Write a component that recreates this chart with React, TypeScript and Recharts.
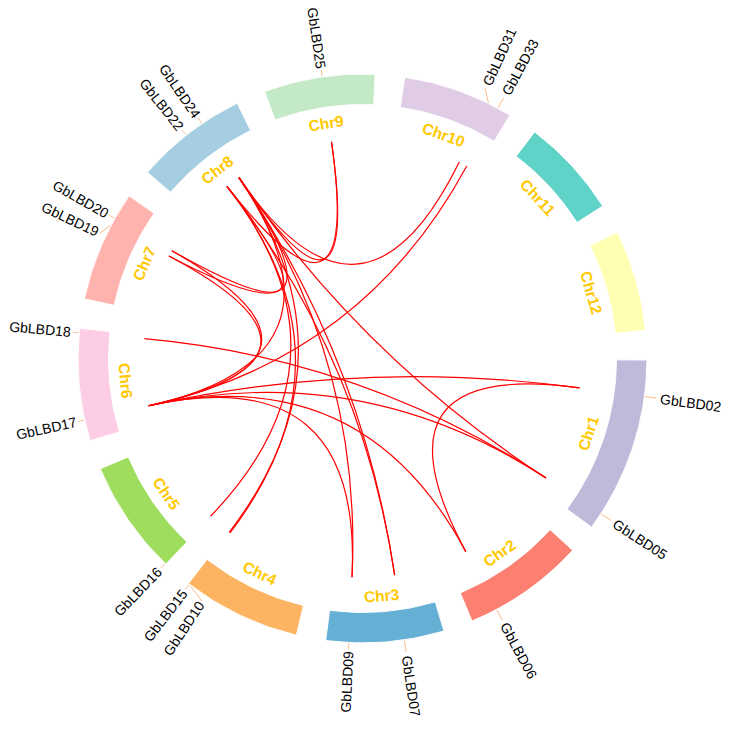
import React from 'react';
import { PieChart, Pie, Cell, Customized } from 'recharts';

// chromosome ring
const chromosomes = ['Chr1', 'Chr2', 'Chr3', 'Chr4', 'Chr5', 'Chr6', 'Chr7', 'Chr8', 'Chr9', 'Chr10', 'Chr11', 'Chr12'];
const chrLengths = [1083, 750, 723, 729, 705, 687, 684, 690, 681, 681, 612, 621]; // Mb
const chrColors = [
  '#BEBADA', '#FB8072', '#66B0D5', '#FDB462', '#9FDD5F', '#FCCDE5',
  '#FFB3AE', '#A6CEE3', '#C4E9C7', '#E0CCE4', '#5FD3C8', '#FFFFB3',
];

// genes placed on the ring
const genes = [
  'GbLBD02', 'GbLBD05', 'GbLBD06', 'GbLBD07', 'GbLBD09', 'GbLBD10', 'GbLBD15', 'GbLBD16', 'GbLBD17',
  'GbLBD18', 'GbLBD19', 'GbLBD20', 'GbLBD22', 'GbLBD24', 'GbLBD25', 'GbLBD31', 'GbLBD33',
];
const geneChr = [
  'Chr1', 'Chr1', 'Chr2', 'Chr3', 'Chr3', 'Chr4', 'Chr4', 'Chr5', 'Chr6',
  'Chr6', 'Chr7', 'Chr7', 'Chr8', 'Chr8', 'Chr9', 'Chr10', 'Chr10',
];
const genePos = [222, 984, 585, 246, 582, 714, 722, 6, 130, 660, 474, 522, 327, 444, 360, 531, 597]; // Mb

// segmental duplication pairs
const linkSource = [
  'GbLBD25', 'GbLBD25', 'GbLBD31', 'GbLBD33', 'GbLBD20', 'GbLBD19', 'GbLBD19', 'GbLBD20', 'GbLBD17', 'GbLBD17', 'GbLBD17',
  'GbLBD17', 'GbLBD18', 'GbLBD02', 'GbLBD05', 'GbLBD16', 'GbLBD15', 'GbLBD10', 'GbLBD09', 'GbLBD07', 'GbLBD07', 'GbLBD17',
];
const linkTarget = [
  'GbLBD24', 'GbLBD22', 'GbLBD24', 'GbLBD17', 'GbLBD22', 'GbLBD24', 'GbLBD17', 'GbLBD17', 'GbLBD02', 'GbLBD05', 'GbLBD06',
  'GbLBD09', 'GbLBD05', 'GbLBD06', 'GbLBD24', 'GbLBD22', 'GbLBD24', 'GbLBD22', 'GbLBD24', 'GbLBD22', 'GbLBD24', 'GbLBD24',
];

const W = 729;
const H = 729;
const CX = 362.5;
const CY = 358.5;
const INNER = 254;
const OUTER = 284.5;
const LINK_R = 219;
const CHR_LABEL_R = 238;
const START = -0.3;
const PAD = 6;
const RAD = Math.PI / 180;

const chartData = chromosomes.map((name, i) => ({ name, value: chrLengths[i] }));

// same layout the Pie uses: clockwise from START, PAD degrees between sectors
const total = chrLengths.reduce((a, b) => a + b, 0);
const usable = 360 - PAD * chromosomes.length;
const chrStart: number[] = [];
let acc = START;
chrLengths.forEach((len) => {
  chrStart.push(acc);
  acc -= (len / total) * usable + PAD;
});

const geneAngle = (i: number) => {
  const c = chromosomes.indexOf(geneChr[i]);
  return chrStart[c] - (genePos[i] / total) * usable;
};
const compass = (a: number) => (((90 - a) % 360) + 360) % 360;
const polar = (r: number, a: number) => ({
  x: CX + r * Math.cos(-a * RAD),
  y: CY + r * Math.sin(-a * RAD),
});

// spread labels that sit too close
const MIN_SEP = 4;
const geneCompass = genes.map((_, i) => compass(geneAngle(i)));
const order = genes.map((_, i) => i).sort((a, b) => geneCompass[a] - geneCompass[b]);
const labelCompass: number[] = [];
for (let k = order.length - 1; k >= 0; k--) {
  const i = order[k];
  const next = k < order.length - 1 ? labelCompass[order[k + 1]] : Infinity;
  labelCompass[i] = Math.min(geneCompass[i], next - MIN_SEP);
}

const renderChrLabel = (props: any) => {
  const { midAngle, index } = props;
  const p = polar(CHR_LABEL_R, midAngle);
  const c = compass(midAngle);
  const rot = c > 90 && c < 270 ? c - 180 : c;
  return (
    <text
      x={p.x}
      y={p.y}
      textAnchor="middle"
      dominantBaseline="central"
      transform={`rotate(${rot} ${p.x} ${p.y})`}
      fill="#FFC800"
      fontWeight="bold"
      fontSize={15.5}
      fontFamily="'Liberation Sans', Arial, sans-serif"
    >
      {chromosomes[index]}
    </text>
  );
};

const Overlay = () => {
  const links = linkSource.map((s, k) => {
    const a = polar(LINK_R, geneAngle(genes.indexOf(s)));
    const b = polar(LINK_R, geneAngle(genes.indexOf(linkTarget[k])));
    return (
      <path
        key={`link-${k}`}
        d={`M${a.x},${a.y} Q${CX},${CY} ${b.x},${b.y}`}
        fill="none"
        stroke="#FF0000"
        strokeWidth={1.2}
      />
    );
  });

  const labels = genes.map((g, i) => {
    const c = labelCompass[i];
    const right = c >= 0 && c < 180;
    const la = 90 - c;
    const p0 = polar(OUTER + 0.5, geneAngle(i));
    const p1 = polar(OUTER + (right ? 12 : 6.5), la);
    const pt = polar(OUTER + (right ? 16 : 8.5), la);
    const rot = right ? c - 90 : c + 90;
    return (
      <g key={`gene-${g}`}>
        <line x1={p0.x} y1={p0.y} x2={p1.x} y2={p1.y} stroke="#F9BE8C" strokeWidth={1} />
        <text
          x={pt.x}
          y={pt.y}
          textAnchor={right ? 'start' : 'end'}
          dominantBaseline="central"
          transform={`rotate(${rot} ${pt.x} ${pt.y})`}
          fontSize={14}
          fill="#000"
          fontFamily="'Liberation Sans', Arial, sans-serif"
        >
          {g}
        </text>
      </g>
    );
  });

  return (
    <g>
      {links}
      {labels}
    </g>
  );
};

export default function App() {
  return (
    <div style={{ width: W, height: H, margin: '-8px 0 0 -8px' }}>
      <PieChart width={W} height={H} margin={{ top: 0, right: 0, bottom: 0, left: 0 }}>
        <Pie
          data={chartData}
          dataKey="value"
          nameKey="name"
          cx={CX}
          cy={CY}
          innerRadius={INNER}
          outerRadius={OUTER}
          startAngle={START}
          endAngle={START - 360}
          paddingAngle={PAD}
          stroke="#fff"
          strokeWidth={1}
          label={renderChrLabel}
          labelLine={false}
          isAnimationActive={false}
        >
          {chartData.map((entry, i) => (
            <Cell key={`cell-${entry.name}`} fill={chrColors[i]} />
          ))}
        </Pie>
        <Customized component={Overlay} />
      </PieChart>
    </div>
  );
}
